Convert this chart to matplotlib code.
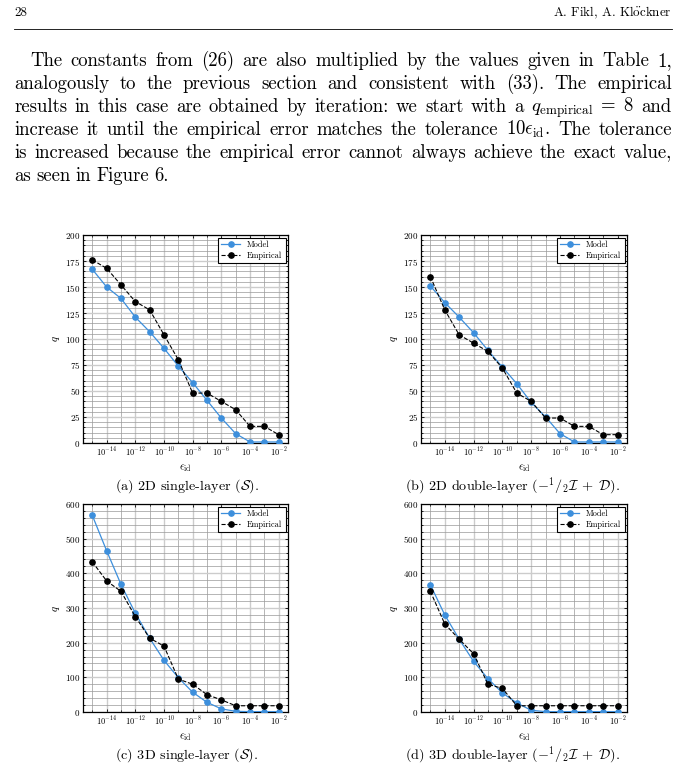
import numpy as np
import matplotlib
matplotlib.use("Agg")
import matplotlib.pyplot as plt
from matplotlib.ticker import LogLocator, FixedLocator, AutoMinorLocator, NullFormatter

plt.rcParams['font.family'] = ['cmr10', 'DejaVu Serif']
plt.rcParams['mathtext.fontset'] = 'cm'
plt.rcParams['axes.formatter.use_mathtext'] = True

W, H = 686, 771

# tolerance values (x) and order q for each case
eps_id = [1e-15, 1e-14, 1e-13, 1e-12, 1e-11, 1e-10, 1e-9,
          1e-8, 1e-7, 1e-6, 1e-5, 1e-4, 1e-3, 1e-2]

model_2d_s = [167, 150, 139, 121, 107, 91, 74, 58, 41, 24, 9, 1, 1, 1]
emp_2d_s = [176, 168, 152, 136, 128, 104, 80, 48, 48, 40, 32, 16, 16, 8]

model_2d_d = [151, 135, 121, 106, 89, 73, 57, 39, 25, 9, 1, 1, 1, 1]
emp_2d_d = [160, 128, 104, 96, 88, 72, 48, 40, 24, 24, 16, 16, 8, 8]

model_3d_s = [567, 465, 368, 285, 213, 149, 99, 57, 28, 9, 2, 1, 1, 1]
emp_3d_s = [433, 378, 348, 275, 213, 190, 95, 80, 50, 35, 18, 18, 18, 18]

model_3d_d = [367, 280, 210, 146, 96, 55, 26, 5, 1, 1, 1, 1, 1, 1]
emp_3d_d = [348, 254, 210, 168, 80, 68, 18, 18, 18, 18, 18, 18, 18, 18]

captions = [
    r"(a) 2D single-layer ($\mathcal{S}$).",
    r"(b) 2D double-layer ($-{}^{1}/{}_{2}\mathcal{I}\;+\;\mathcal{D}$).",
    r"(c) 3D single-layer ($\mathcal{S}$).",
    r"(d) 3D double-layer ($-{}^{1}/{}_{2}\mathcal{I}\;+\;\mathcal{D}$).",
]

paragraph = [
    "The constants from (26) are also multiplied by the values given in Table 1,",
    "analogously to the previous section and consistent with (33). The empirical",
    r"results in this case are obtained by iteration: we start with a $q_{\mathrm{empirical}}\;=\;8$ and",
    r"increase it until the empirical error matches the tolerance $10\epsilon_{\mathrm{id}}$. The tolerance",
    "is increased because the empirical error cannot always achieve the exact value,",
    "as seen in Figure 6.",
]

MODEL_C = '#3d8fdc'

fig = plt.figure(figsize=(W / 100, H / 100), dpi=100)
renderer = fig.canvas.get_renderer()


def justify(line, x0, x1, ybase, size, stretch=True):
    words = line.split(' ')
    texts = [fig.text(0, 1 - ybase / H, w, fontsize=size, va='baseline', ha='left')
             for w in words]
    widths = [t.get_window_extent(renderer).width for t in texts]
    if stretch and len(words) > 1:
        gap = (x1 - x0 - sum(widths)) / (len(words) - 1)
    else:
        gap = size * 0.4
    x = x0
    for t, w in zip(texts, widths):
        t.set_x(x / W)
        x += w + gap


# header
fig.text(14 / W, 1 - 16 / H, "28", fontsize=9.4, va='baseline')
fig.text(672 / W, 1 - 16 / H, r"A. Fikl, A. Kl$\ddot{\mathrm{o}}$ckner", fontsize=9.4,
         va='baseline', ha='right')
fig.add_artist(plt.Line2D([14 / W, 672 / W], [1 - 29 / H, 1 - 29 / H], color='black', lw=0.6))

for i, line in enumerate(paragraph):
    x0 = 30 if i == 0 else 14
    justify(line, x0, 672, 66 + 23 * i, 13.5, stretch=(i < len(paragraph) - 1))


def panel(rect, model, emp, ymax, ymajor):
    l, t, r, b = rect
    ax = fig.add_axes([l / W, 1 - b / H, (r - l) / W, (b - t) / H])
    ax.plot(eps_id, model, '-o', color=MODEL_C, lw=0.9, ms=3.8, label='Model', zorder=3)
    ax.plot(eps_id, emp, '--o', color='black', lw=0.8, ms=3.8, label='Empirical', zorder=4)
    ax.set_xscale('log')
    ax.set_ylim(0, ymax)
    ax.xaxis.set_major_locator(LogLocator(base=100.0, numticks=20))
    ax.xaxis.set_minor_locator(FixedLocator([10.0 ** k for k in range(-15, 0, 2)]))
    ax.xaxis.set_minor_formatter(NullFormatter())
    ax.yaxis.set_major_locator(FixedLocator(np.arange(0, ymax + 1, ymajor)))
    ax.yaxis.set_minor_locator(AutoMinorLocator(5))
    ax.grid(which='major', color='0.8', lw=1.0)
    ax.grid(which='minor', color='0.6', lw=0.5)
    ax.set_axisbelow(True)
    ax.tick_params(which='both', direction='in', top=True, right=True, width=0.6)
    ax.tick_params(axis='y', labelsize=6.5)
    ax.tick_params(axis='x', labelsize=6.0)
    ax.tick_params(which='major', length=2.5, pad=2)
    ax.tick_params(which='minor', length=1.3)
    for s in ax.spines.values():
        s.set_linewidth(0.9)
    ax.set_xlabel(r'$\epsilon_{\mathrm{id}}$', fontsize=8, labelpad=2)
    ax.set_ylabel(r'$q$', fontsize=8, labelpad=2)
    leg = ax.legend(loc='upper right', fontsize=6.0, fancybox=False, framealpha=1,
                    edgecolor='black', borderaxespad=0.3, handlelength=2.3, borderpad=0.4,
                    labelspacing=0.3)
    leg.get_frame().set_linewidth(0.8)
    return ax


panel((83, 235, 288, 443), model_2d_s, emp_2d_s, 200, 25)
panel((421, 235, 627, 443), model_2d_d, emp_2d_d, 200, 25)
panel((83, 504, 288, 712), model_3d_s, emp_3d_s, 600, 100)
panel((421, 504, 627, 712), model_3d_d, emp_3d_d, 600, 100)

cap_pos = [(187, 490), (512, 490), (187, 759), (512, 759)]
for (cx, cy), cap in zip(cap_pos, captions):
    fig.text(cx / W, 1 - cy / H, cap, fontsize=10.2, ha='center', va='baseline')

fig.savefig('out.png', dpi=100)
